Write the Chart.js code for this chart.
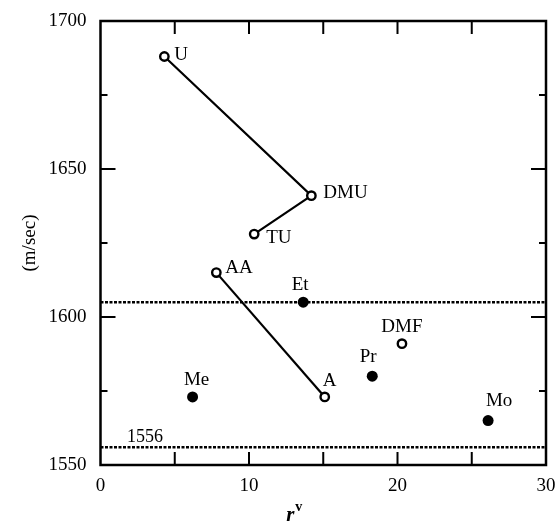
<!DOCTYPE html>
<html>
<head>
<meta charset="utf-8">
<script src="https://cdn.jsdelivr.net/npm/chart.js@4/dist/chart.umd.min.js"></script>
<style>
  html, body { margin: 0; padding: 0; background: #fff; }
  #wrap { width: 556px; height: 523px; }
</style>
</head>
<body>
<div id="wrap"><canvas id="soundChart"></canvas></div>
<script>
// values
const ureaNames = ['U', 'DMU', 'TU'];
const ureaR = [4.3, 14.2, 10.35];
const ureaV = [1688, 1641, 1628];

const amideNames = ['AA', 'A'];
const amideR = [7.8, 15.1];
const amideV = [1615, 1573];

const dmfNames = ['DMF'];
const dmfR = [20.3];
const dmfV = [1591];

const solidNames = ['Et', 'Pr', 'Me', 'Mo'];
const solidR = [13.65, 18.3, 6.2, 26.1];
const solidV = [1605, 1580, 1573, 1565];

const refLevels = [1605, 1556];
const refText = '1556';

const xTicks = [0, 10, 20, 30];
const yTicks = [1550, 1600, 1650, 1700];

const FONT = '"Liberation Serif", "DejaVu Serif", serif';

// label offsets in pixels from each point
const labelOffsets = {
    U: [10, -2, 'left'], DMU: [12, -3, 'left'], TU: [12, 4, 'left'],
    AA: [9, -5, 'left'], A: [5, -16, 'center'], DMF: [0, -17, 'center'],
    Et: [-3, -17, 'center'], Pr: [-4, -19, 'center'], Me: [4, -17, 'center'],
    Mo: [11, -20, 'center']
};

function toPoints(xs, ys) {
    return xs.map((x, i) => ({ x, y: ys[i] }));
}

const frameAndLabels = {
    id: 'frameAndLabels',
    afterDatasetsDraw(chart) {
        const { ctx, chartArea: a, scales } = chart;
        const xs = scales.x, ys = scales.y;
        ctx.save();
        ctx.strokeStyle = '#000';
        ctx.lineWidth = 2.5;
        ctx.strokeRect(a.left, a.top, a.right - a.left, a.bottom - a.top);

        // inward ticks on all four sides
        ctx.lineWidth = 2;
        ctx.beginPath();
        for (let v = 5; v < 30; v += 5) {
            const px = xs.getPixelForValue(v);
            ctx.moveTo(px, a.bottom); ctx.lineTo(px, a.bottom - 13);
            ctx.moveTo(px, a.top); ctx.lineTo(px, a.top + 13);
        }
        for (let v = 1575; v < 1700; v += 25) {
            const py = ys.getPixelForValue(v);
            const len = v % 50 === 0 ? 15 : 7;
            ctx.moveTo(a.left, py); ctx.lineTo(a.left + len, py);
            ctx.moveTo(a.right, py); ctx.lineTo(a.right - len, py);
        }
        ctx.stroke();

        // point labels
        ctx.fillStyle = '#000';
        ctx.font = '19px ' + FONT;
        ctx.textBaseline = 'middle';
        const groups = [[ureaNames, ureaR, ureaV], [amideNames, amideR, amideV],
            [dmfNames, dmfR, dmfV], [solidNames, solidR, solidV]];
        groups.forEach(([names, rs, vs]) => {
            names.forEach((n, i) => {
                const o = labelOffsets[n];
                ctx.textAlign = o[2];
                ctx.fillText(n, xs.getPixelForValue(rs[i]) + o[0], ys.getPixelForValue(vs[i]) + o[1]);
            });
        });

        ctx.textAlign = 'center';
        ctx.font = '18px ' + FONT;
        ctx.fillText(refText, xs.getPixelForValue(3), ys.getPixelForValue(refLevels[1]) - 10);

        // x axis title r_s^v
        const tx = xs.getPixelForValue(12.5);
        ctx.textBaseline = 'alphabetic';
        ctx.textAlign = 'left';
        ctx.font = 'italic bold 21px ' + FONT;
        ctx.fillText('r', tx, 521);
        ctx.font = 'bold 14px ' + FONT;
        ctx.fillText('s', tx + 9, 530);
        ctx.fillText('v', tx + 9, 511);
        ctx.restore();
    }
};

function initializeChart() {
    const ctx = document.getElementById('soundChart');

    const openPoint = {
        pointRadius: 4.2,
        pointBorderWidth: 2.4,
        pointBackgroundColor: '#fff',
        pointBorderColor: '#000',
        borderColor: '#000',
        borderWidth: 2.2
    };

    const datasets = [
        { label: 'ureas', data: toPoints(ureaR, ureaV), showLine: true, ...openPoint },
        { label: 'amides', data: toPoints(amideR, amideV), showLine: true, ...openPoint },
        { label: 'DMF', data: toPoints(dmfR, dmfV), showLine: false, ...openPoint },
        {
            label: 'solid', data: toPoints(solidR, solidV), showLine: false,
            pointRadius: 5.5, pointBackgroundColor: '#000', pointBorderColor: '#000', pointBorderWidth: 0
        }
    ];
    refLevels.forEach(level => {
        datasets.unshift({
            label: 'ref ' + level,
            data: [{ x: 0, y: level }, { x: 30, y: level }],
            showLine: true,
            borderColor: '#000',
            borderWidth: 2.5,
            borderDash: [3, 1.5],
            pointRadius: 0
        });
    });

    new Chart(ctx, {
        type: 'scatter',
        data: { datasets },
        options: {
            responsive: true,
            maintainAspectRatio: false,
            animation: false,
            layout: { padding: { top: 21, right: 10, left: 0, bottom: 0 } },
            plugins: { legend: { display: false }, tooltip: { enabled: false } },
            scales: {
                x: {
                    type: 'linear', min: 0, max: 30,
                    afterBuildTicks: s => { s.ticks = xTicks.map(v => ({ value: v })); },
                    afterFit: s => { s.height = 58; s.paddingLeft = 0; s.paddingRight = 0; },
                    grid: { display: false },
                    border: { display: false },
                    ticks: {
                        color: '#000', padding: 2, maxRotation: 0,
                        font: { family: FONT, size: 19 },
                        callback: v => String(v)
                    }
                },
                y: {
                    type: 'linear', min: 1550, max: 1700,
                    afterBuildTicks: s => { s.ticks = yTicks.map(v => ({ value: v })); },
                    afterFit: s => { s.width = 100.5; },
                    grid: { display: false },
                    border: { display: false },
                    title: {
                        display: true, text: '(m/sec)', color: '#000',
                        font: { family: FONT, size: 19 }, padding: { top: 19, bottom: 0 }
                    },
                    ticks: {
                        color: '#000', padding: 6,
                        font: { family: FONT, size: 19 },
                        callback: v => String(v)
                    }
                }
            }
        },
        plugins: [frameAndLabels]
    });
}

initializeChart();
</script>
</body>
</html>
